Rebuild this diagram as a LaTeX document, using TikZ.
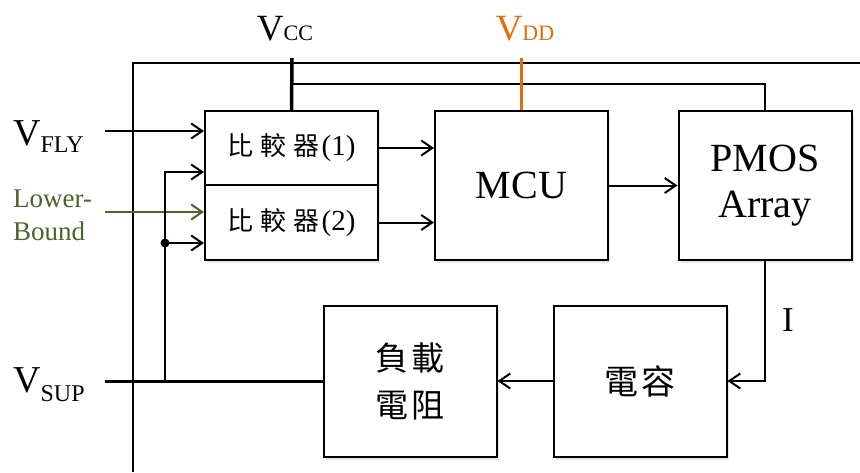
\documentclass[tikz,border=0pt]{standalone}
\usepackage{fontspec}
\setmainfont{Liberation Serif}
\newfontfamily\cjk{Noto Sans CJK TC}
\usetikzlibrary{arrows.meta,shadows}
\definecolor{vddorange}{HTML}{E46C0A}
\definecolor{lbgreen}{HTML}{4F6228}
\begin{document}
\begin{tikzpicture}[x=1pt,y=-1pt,
    blk/.style={draw,line width=2pt,fill=white,minimum width=173pt,inner sep=0pt,
      drop shadow={shadow xshift=2pt,shadow yshift=-3pt,opacity=0.2}},
    wire/.style={line width=2pt},
    arr/.style={wire,-{Straight Barb[length=11pt,width=15pt]}}]
    \useasboundingbox (0,0) rectangle (860,472);
    \draw [line width=1.3pt] (133,472) -- (133,63) -- (860,63);
    % blocks
    \node [blk,minimum height=74pt,font=\fontsize{26}{30}\selectfont] (cmpA) at (291.5,148) {{\cjk 比\hspace{7pt}較\hspace{7pt}器}\hspace{2pt}{\fontsize{29}{30}\selectfont(1)}};
    \node [blk,minimum height=75pt,font=\fontsize{26}{30}\selectfont] (cmpB) at (291.5,222.5) {{\cjk 比\hspace{7pt}較\hspace{7pt}器}\hspace{2pt}{\fontsize{29}{30}\selectfont(2)}};
    \node [blk,minimum height=149pt,font=\fontsize{40}{46}\selectfont] (mcu) at (521.5,185.5) {MCU};
    \node [blk,minimum height=149pt,align=center,font=\fontsize{40}{46}\selectfont] (pmos) at (765,185.5) {PMOS\\Array};
    \node [blk,minimum height=151pt,align=center,font=\fontsize{33}{47}\selectfont\cjk] (load) at (410,381) {負\hspace{3pt}載\\電\hspace{3pt}阻};
    \node [blk,minimum height=151pt,font=\fontsize{34}{40}\selectfont\cjk] (cap) at (640,381) {電\hspace{4pt}容};
    % supplies
    \coordinate (vccTop) at (292,58);
    \coordinate (vddTop) at (521.5,58);
    \draw [line width=3.5pt] (cmpA.north) -- (vccTop);
    \draw [wire] (vccTop |- 0,84) -| (pmos.north);
    \draw [line width=3.5pt,vddorange] (mcu.north) -- (vddTop);
    \node [anchor=base] (vcc) at (285,40) {\fontsize{37}{40}\selectfont V{\fontsize{22}{22}\selectfont CC}};
    \node [anchor=base,vddorange] (vdd) at (525,40) {\fontsize{37}{40}\selectfont V{\fontsize{22}{22}\selectfont DD}};
    % inputs
    \node [anchor=base west,inner sep=0pt] (vfly) at (13,145) {\fontsize{38}{40}\selectfont V\raisebox{-7pt}{\fontsize{24}{24}\selectfont FLY}};
    \node [anchor=west,inner sep=0pt,align=left,lbgreen,font=\fontsize{27}{33}\selectfont] (lb) at (13,215) {Lower-\\Bound};
    \node [anchor=base west,inner sep=0pt] (vsup) at (13,392) {\fontsize{38}{40}\selectfont V\raisebox{-9pt}{\fontsize{24}{24}\selectfont SUP}};
    \coordinate (flyIn) at (105,131);
    \coordinate (lbIn) at (105,212);
    \coordinate (supIn) at (105,381);
    \coordinate (busTop) at (165,172);
    \coordinate (busDot) at (165,243);
    \coordinate (busBot) at (165,381);
    \draw [arr] (flyIn) -- (flyIn -| cmpA.west);
    \draw [arr,lbgreen] (lbIn) -- (lbIn -| cmpB.west);
    \draw [line width=3pt] (supIn) -- (load.west);
    \draw [arr] (busBot) -- (busTop) -- (busTop -| cmpA.west);
    \draw [arr] (busDot) -- (busDot -| cmpB.west);
    \fill (busDot) circle (4.5pt);
    % signal path
    \draw [arr] (cmpA.east) -- (cmpA.east -| mcu.west);
    \draw [arr] (cmpB.east) -- (cmpB.east -| mcu.west);
    \draw [arr] (mcu.east) -- (pmos.west);
    \draw [arr] (pmos.south) |- (cap.east);
    \node (curr) at (788,320) {\fontsize{35}{40}\selectfont I};
    \draw [arr] (cap.west) -- (load.east);
\end{tikzpicture}
\end{document}
